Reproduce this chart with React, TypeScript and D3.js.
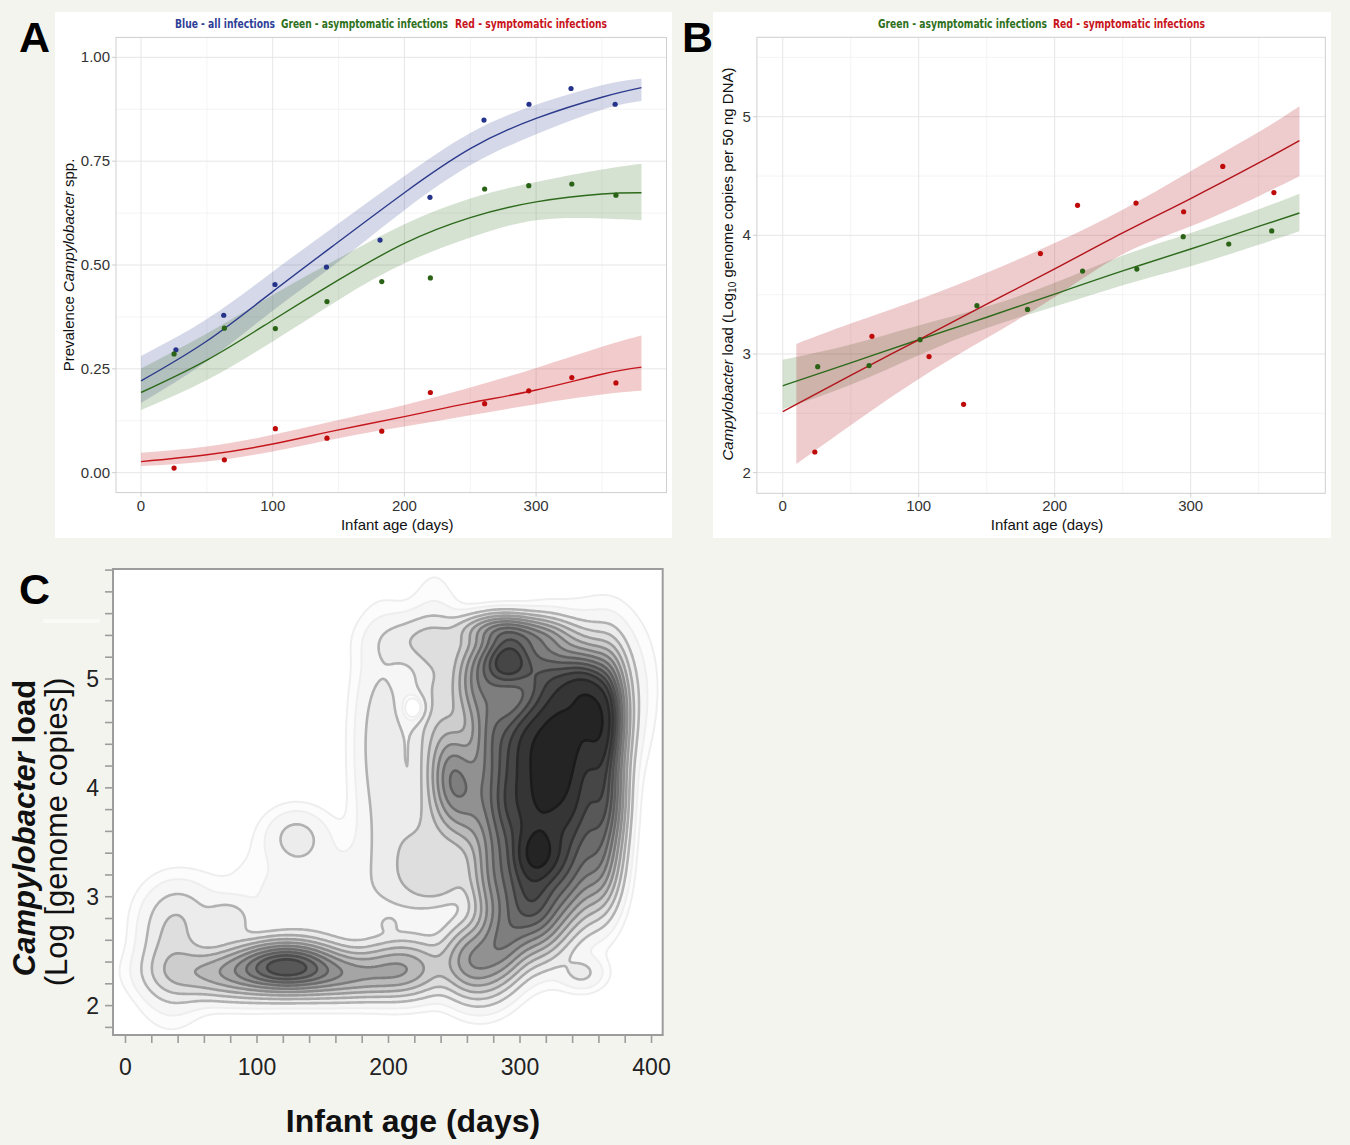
import { useEffect, useRef } from "react";
import * as d3 from "d3";

// ---------- Panel A: prevalence, fitted curves read at these ages ----------
const fitDaysA = [0, 50, 100, 150, 200, 250, 300, 350, 380];
const blueFit = [0.221, 0.317, 0.436, 0.556, 0.674, 0.78, 0.853, 0.904, 0.927];
const blueHi = [0.281, 0.37, 0.484, 0.6, 0.714, 0.818, 0.886, 0.933, 0.949];
const blueLo = [0.168, 0.268, 0.39, 0.508, 0.632, 0.74, 0.815, 0.874, 0.895];
const greenFit = [0.193, 0.271, 0.367, 0.464, 0.552, 0.614, 0.652, 0.671, 0.674];
const greenHi = [0.251, 0.335, 0.428, 0.516, 0.598, 0.66, 0.7, 0.73, 0.744];
const greenLo = [0.151, 0.223, 0.316, 0.416, 0.504, 0.566, 0.608, 0.612, 0.608];
const redFit = [0.0265, 0.043, 0.069, 0.103, 0.135, 0.168, 0.199, 0.237, 0.254];
const redHi = [0.048, 0.063, 0.091, 0.127, 0.163, 0.205, 0.252, 0.303, 0.33];
const redLo = [0.016, 0.027, 0.051, 0.083, 0.111, 0.138, 0.165, 0.188, 0.197];

// observed prevalence
const blueDays = [26.5, 62.8, 101.7, 140.8, 181.5, 219.4, 260.4, 294.6, 326.5, 360];
const bluePrev = [0.296, 0.379, 0.453, 0.495, 0.56, 0.663, 0.849, 0.887, 0.925, 0.887];
const greenDays = [25.1, 63.3, 102, 141.2, 182.8, 219.7, 260.9, 294.4, 327.1, 360.6];
const greenPrev = [0.286, 0.348, 0.347, 0.412, 0.46, 0.469, 0.683, 0.691, 0.695, 0.668];
const redDays = [25.1, 63.3, 102, 141.2, 182.8, 219.7, 260.9, 294.4, 327.1, 360.6];
const redPrev = [0.011, 0.031, 0.106, 0.083, 0.1, 0.193, 0.166, 0.197, 0.229, 0.216];

// ---------- Panel B: load, linear fits ----------
const fitDaysB = [0, 50, 100, 150, 200, 250, 300, 350, 380];
const redBandDaysB = [10, 50, 100, 150, 200, 250, 300, 350, 380];
const redFitB = [2.515, 2.82, 3.12, 3.42, 3.717, 4.02, 4.31, 4.61, 4.798];
const redHiB = [3.085, 3.256, 3.459, 3.684, 3.935, 4.216, 4.54, 4.87, 5.087];
const redLoB = [2.073, 2.4, 2.79, 3.135, 3.48, 3.84, 4.076, 4.33, 4.497];
const greenFitB = [2.732, 2.925, 3.12, 3.31, 3.505, 3.7, 3.885, 4.075, 4.188];
const greenHiB = [2.952, 3.08, 3.24, 3.4, 3.6, 3.83, 4.02, 4.22, 4.351];
const greenLoB = [2.535, 2.74, 2.99, 3.22, 3.4, 3.58, 3.74, 3.92, 4.034];

const redDaysB = [23.6, 65.6, 107.6, 133, 189.5, 216.8, 259.8, 294.8, 323.6, 361.2];
const redLoad = [2.174, 3.149, 2.978, 2.576, 3.846, 4.253, 4.272, 4.199, 4.581, 4.36];
const greenDaysB = [25.7, 63.5, 101, 142.8, 180, 220.5, 260.4, 294.5, 328, 359.6];
const greenLoad = [2.893, 2.902, 3.121, 3.407, 3.376, 3.699, 3.716, 3.989, 3.927, 4.037];

// ---------- Panel C: density hot spots [day, load, weight, sdDay, sdLoad, rho] ----------
const ridgeKernels = [
  [262, 2.42, 0.45, 13, 0.2, 0],
  [288, 2.6, 0.6, 14, 0.26, 0.3],
  [315, 2.85, 0.5, 13, 0.25, 0],
  [282, 3.2, 0.5, 12, 0.3, 0],
  [306, 3.2, 0.8, 13, 0.3, 0],
  [335, 3.25, 0.75, 13, 0.3, 0],
  [360, 3.35, 0.5, 10, 0.3, 0],
  [262, 3.9, 0.4, 12, 0.3, 0],
  [290, 3.85, 0.8, 13, 0.3, 0],
  [315, 3.8, 0.9, 13, 0.3, 0],
  [340, 3.85, 0.9, 13, 0.3, 0],
  [365, 3.9, 0.7, 9, 0.3, 0],
  [248, 4.1, 0.5, 10, 0.28, 0],
  [280, 4.5, 0.6, 12, 0.3, 0],
  [305, 4.45, 0.9, 13, 0.3, 0],
  [330, 4.45, 1.0, 13, 0.3, 0],
  [360, 4.5, 0.9, 10, 0.3, 0],
  [268, 4.95, 0.45, 12, 0.22, 0],
  [292, 5.15, 0.7, 12, 0.17, 0],
  [320, 5.05, 0.6, 13, 0.23, 0],
  [345, 4.95, 0.7, 12, 0.2, 0],
  [368, 4.75, 0.45, 8, 0.3, 0],
  [285, 5.45, 0.4, 18, 0.09, 0],
  [312, 5.38, 0.28, 18, 0.1, 0],
  // peaks
  [335, 4.45, 0.8, 24, 0.45, 0.35],
  [322, 4.1, 0.25, 10, 0.25, 0.3],
  [352, 4.75, 0.3, 10, 0.25, 0.3],
  [288, 5.19, 0.55, 16, 0.16, 0],
  [314, 3.4, 0.8, 10, 0.15, 0],
  [347, 2.3, 0.08, 11, 0.1, 0],
];
const lowerKernels = [
  [123, 2.37, 0.92, 22, 0.13, 0],
  [85, 2.3, 0.4, 32, 0.14, 0],
  [165, 2.28, 0.4, 28, 0.13, 0],
  [212, 2.35, 0.35, 20, 0.16, 0],
  [35, 2.45, 0.14, 15, 0.3, 0],
  [42, 2.85, 0.07, 18, 0.2, 0],
  [78, 2.78, 0.1, 11, 0.12, 0],
  [200, 2.75, 0.04, 5, 0.05, 0],
  [130, 3.55, 0.085, 15, 0.16, 0],
  [150, 3.0, 0.06, 40, 0.3, 0],
];
const armKernels = [
  [195, 4.4, 0.11, 13, 0.6, 0],
  [225, 5.35, 0.11, 22, 0.15, 0],
  [220, 3.4, 0.12, 20, 0.35, 0],
  [238, 3.15, 0.12, 16, 0.14, 0],
  [221, 4.73, -0.1, 7, 0.09, 0],
  [235, 4.6, 0.14, 12, 0.6, 0],
];
const densityLevels = [0.012, 0.03, 0.07, 0.13, 0.21, 0.31, 0.43, 0.57, 0.72, 0.88, 1.05, 1.22, 1.45, 1.8];
const densityFills = ["#fcfcfc", "#f6f6f6", "#ececec", "#dedede", "#cdcdcd", "#bababa", "#a5a5a5",
  "#919191", "#7e7e7e", "#6b6b6b", "#585858", "#464646", "#353535", "#242424"];

const xTicksAB = [0, 100, 200, 300];
const xMinorAB = [50, 150, 250, 350];
const yTicksA = [0, 0.25, 0.5, 0.75, 1];
const yMinorA = [0.125, 0.375, 0.625, 0.875];
const yTicksB = [2, 3, 4, 5];
const yMinorB = [2.5, 3.5, 4.5, 5.5];
const xTicksC = [0, 100, 200, 300, 400];
const yTicksC = [2, 3, 4, 5];

const W = 1350;
const H = 1145;
const sans = "'Liberation Sans', Arial, Helvetica, sans-serif";
const narrow = "'Liberation Sans Narrow', 'Arial Narrow', 'DejaVu Sans Condensed', sans-serif";

const BLUE = "#2c3a8c";
const GREEN = "#2d6a1b";
const RED = "#c4161c";

const allKernels = [...ridgeKernels, ...lowerKernels, ...armKernels];
const densityAt = (day: number, load: number) => {
  let s = 0;
  for (const [kd, kl, w, sd, sl, r] of allKernels) {
    const a = (day - kd) / sd;
    const b = (load - kl) / sl;
    const q = (a * a - 2 * r * a * b + b * b) / (1 - r * r);
    s += w * Math.exp(-0.5 * q);
  }
  return Math.max(0, s);
};

export default function App() {
  const ref = useRef<SVGSVGElement>(null);

  useEffect(() => {
    const svg = d3.select(ref.current);
    svg.selectAll("*").remove();
    svg.append("rect").attr("width", W).attr("height", H).attr("fill", "#f4f4ef");

    // shared helper: ggplot-like light panel
    const drawPanel = (x: any, y: any, xMaj: number[], xMin: number[], yMaj: number[], yMin: number[], fmt: (v: number) => string) => {
      const [x0, x1] = x.range();
      const [y0, y1] = y.range(); // bottom, top
      const g = svg.append("g");
      g.selectAll(".vmin").data(xMin).join("line")
        .attr("x1", (d) => x(d)).attr("x2", (d) => x(d)).attr("y1", y1).attr("y2", y0)
        .attr("stroke", "#f1f1f1").attr("stroke-width", 0.8);
      g.selectAll(".hmin").data(yMin).join("line")
        .attr("y1", (d) => y(d)).attr("y2", (d) => y(d)).attr("x1", x0).attr("x2", x1)
        .attr("stroke", "#f1f1f1").attr("stroke-width", 0.8);
      g.selectAll(".vmaj").data(xMaj).join("line")
        .attr("x1", (d) => x(d)).attr("x2", (d) => x(d)).attr("y1", y1).attr("y2", y0)
        .attr("stroke", "#e6e6e6").attr("stroke-width", 1);
      g.selectAll(".hmaj").data(yMaj).join("line")
        .attr("y1", (d) => y(d)).attr("y2", (d) => y(d)).attr("x1", x0).attr("x2", x1)
        .attr("stroke", "#e6e6e6").attr("stroke-width", 1);
      g.append("rect").attr("x", x0).attr("y", y1).attr("width", x1 - x0).attr("height", y0 - y1)
        .attr("fill", "none").attr("stroke", "#cfcfcf").attr("stroke-width", 1);
      g.selectAll(".yt").data(yMaj).join("line")
        .attr("x1", x0 - 4).attr("x2", x0).attr("y1", (d) => y(d)).attr("y2", (d) => y(d))
        .attr("stroke", "#cfcfcf");
      g.selectAll(".xt").data(xMaj).join("line")
        .attr("y1", y0).attr("y2", y0 + 4).attr("x1", (d) => x(d)).attr("x2", (d) => x(d))
        .attr("stroke", "#cfcfcf");
      g.selectAll(".yl").data(yMaj).join("text")
        .attr("x", x0 - 6).attr("y", (d) => y(d) + 5).attr("text-anchor", "end")
        .attr("font-family", sans).attr("font-size", 15).attr("fill", "#333").text(fmt);
      g.selectAll(".xl").data(xMaj).join("text")
        .attr("x", (d) => x(d)).attr("y", y0 + 18).attr("text-anchor", "middle")
        .attr("font-family", sans).attr("font-size", 15).attr("fill", "#333").text((d) => String(d));
      g.append("text").attr("x", (x0 + x1) / 2 + 6).attr("y", y0 + 37).attr("text-anchor", "middle")
        .attr("font-family", sans).attr("font-size", 15).attr("fill", "#111").text("Infant age (days)");
      return g;
    };

    const drawSeries = (g: any, x: any, y: any, bandDays: number[], lo: number[], hi: number[],
      fitDays: number[], fit: number[], color: string, alpha: number) => {
      const band = bandDays.map((d, i) => ({ d, lo: lo[i], hi: hi[i] }));
      g.append("path").datum(band)
        .attr("d", d3.area<any>().x((p) => x(p.d)).y0((p) => y(p.lo)).y1((p) => y(p.hi)).curve(d3.curveNatural))
        .attr("fill", color).attr("fill-opacity", alpha);
      const line = fitDays.map((d, i) => ({ d, v: fit[i] }));
      return () => g.append("path").datum(line)
        .attr("d", d3.line<any>().x((p) => x(p.d)).y((p) => y(p.v)).curve(d3.curveNatural))
        .attr("fill", "none").attr("stroke", color).attr("stroke-width", 1.4);
    };

    const drawPoints = (g: any, x: any, y: any, days: number[], vals: number[], color: string) => {
      g.selectAll(null).data(days.map((d, i) => [d, vals[i]])).join("circle")
        .attr("cx", (p: number[]) => x(p[0])).attr("cy", (p: number[]) => y(p[1])).attr("r", 2.6)
        .attr("fill", color);
    };

    const legend = (items: [string, string, number, number][]) => {
      items.forEach(([t, c, x, w]) => {
        svg.append("text").attr("x", x).attr("y", 28).attr("font-family", narrow)
          .attr("font-weight", "bold").attr("font-size", 11.5).attr("fill", c)
          .attr("textLength", w).attr("lengthAdjust", "spacingAndGlyphs").text(t);
      });
    };

    // ---------- Panel A ----------
    svg.append("rect").attr("x", 55).attr("y", 12).attr("width", 617).attr("height", 526).attr("fill", "#fff");
    const xA = d3.scaleLinear().domain([-19, 399]).range([116, 666.5]);
    const yA = d3.scaleLinear().domain([-0.048, 1.048]).range([492.6, 37.4]);
    const gA = drawPanel(xA, yA, xTicksAB, xMinorAB, yTicksA, yMinorA, d3.format(".2f"));
    const lb = drawSeries(gA, xA, yA, fitDaysA, blueLo, blueHi, fitDaysA, blueFit, BLUE, 0.2);
    const lg = drawSeries(gA, xA, yA, fitDaysA, greenLo, greenHi, fitDaysA, greenFit, GREEN, 0.2);
    const lr = drawSeries(gA, xA, yA, fitDaysA, redLo, redHi, fitDaysA, redFit, RED, 0.22);
    lb(); lg(); lr();
    drawPoints(gA, xA, yA, blueDays, bluePrev, "#25338a");
    drawPoints(gA, xA, yA, greenDays, greenPrev, "#2a6316");
    drawPoints(gA, xA, yA, redDays, redPrev, "#bf0a0a");
    svg.append("text").attr("transform", "translate(74,265) rotate(-90)").attr("text-anchor", "middle")
      .attr("font-family", sans).attr("font-size", 15).attr("fill", "#111")
      .call((t: any) => {
        t.append("tspan").text("Prevalence ");
        t.append("tspan").attr("font-style", "italic").text("Campylobacter");
        t.append("tspan").text(" spp.");
      });
    legend([
      ["Blue - all infections", "#2e3f97", 175, 100],
      ["Green - asymptomatic infections", "#2e7020", 281, 167],
      ["Red - symptomatic infections", "#c8141c", 455, 152],
    ]);

    // ---------- Panel B ----------
    svg.append("rect").attr("x", 713).attr("y", 12).attr("width", 618).attr("height", 526).attr("fill", "#fff");
    const xB = d3.scaleLinear().domain([-19, 399]).range([756.9, 1325.3]);
    const yB = d3.scaleLinear().domain([1.826, 5.669]).range([493.3, 37.3]);
    const gB = drawPanel(xB, yB, xTicksAB, xMinorAB, yTicksB, yMinorB, d3.format("d"));
    const lgB = drawSeries(gB, xB, yB, fitDaysB, greenLoB, greenHiB, fitDaysB, greenFitB, GREEN, 0.2);
    const lrB = drawSeries(gB, xB, yB, redBandDaysB, redLoB, redHiB, fitDaysB, redFitB, "#b3141b", 0.22);
    lgB(); lrB();
    drawPoints(gB, xB, yB, redDaysB, redLoad, "#bf0a0a");
    drawPoints(gB, xB, yB, greenDaysB, greenLoad, "#2a6316");
    svg.append("text").attr("transform", "translate(733,264) rotate(-90)").attr("text-anchor", "middle")
      .attr("font-family", sans).attr("font-size", 15).attr("fill", "#111")
      .call((t: any) => {
        t.append("tspan").attr("font-style", "italic").text("Campylobacter");
        t.append("tspan").text(" load (Log");
        t.append("tspan").attr("font-size", 10).attr("dy", 3).text("10");
        t.append("tspan").attr("dy", -3).text(" genome copies per 50 ng DNA)");
      });
    legend([
      ["Green - asymptomatic infections", "#2e7020", 878, 169],
      ["Red - symptomatic infections", "#c8141c", 1053, 152],
    ]);

    // ---------- Panel C: density contours ----------
    const cx = d3.scaleLinear().domain([-9.5, 408.5]).range([113, 662.7]);
    const cy = d3.scaleLinear().domain([1.73, 6.01]).range([1035, 569]);
    const cx0 = 113, cy0 = 569, step = 2;
    const nx = Math.ceil((662.7 - cx0) / step) + 1;
    const ny = Math.ceil((1035 - cy0) / step) + 1;
    const values: number[] = new Array(nx * ny);
    for (let j = 0; j < ny; j++) {
      const load = cy.invert(cy0 + j * step);
      for (let i = 0; i < nx; i++) values[j * nx + i] = densityAt(cx.invert(cx0 + i * step), load);
    }
    const contours = d3.contours().size([nx, ny]).thresholds(densityLevels)(values);
    const proj = d3.geoTransform({
      point(px: number, py: number) {
        (this as any).stream.point(cx0 + (px - 0.5) * step, cy0 + (py - 0.5) * step);
      },
    });
    const path = d3.geoPath(proj);
    svg.append("defs").append("clipPath").attr("id", "clipC")
      .append("rect").attr("x", 113).attr("y", 569).attr("width", 549.7).attr("height", 466);
    svg.append("rect").attr("x", 113).attr("y", 569).attr("width", 549.7).attr("height", 466).attr("fill", "#fff");
    const gC = svg.append("g").attr("clip-path", "url(#clipC)");
    gC.selectAll("path").data(contours).join("path")
      .attr("d", path as any)
      .attr("fill", (_d, i) => densityFills[i])
      .attr("stroke", (_d, i) => (i < 2 ? "#eeeeee" : d3.rgb(densityFills[i]).darker(0.8).formatHex()))
      .attr("stroke-width", (_d, i) => (i < 2 ? 2 : 2.6))
      .attr("stroke-linejoin", "round");

    // frame & ticks
    svg.append("rect").attr("x", 113).attr("y", 569).attr("width", 549.7).attr("height", 466)
      .attr("fill", "none").attr("stroke", "#9c9c9c").attr("stroke-width", 2);
    const xMinorC = d3.range(0, 401, 20);
    const yMinorC = d3.range(1.8, 6.01, 0.2);
    svg.append("g").selectAll("line").data(xMinorC).join("line")
      .attr("x1", (d) => cx(d)).attr("x2", (d) => cx(d)).attr("y1", 1036).attr("y2", 1043)
      .attr("stroke", "#9c9c9c").attr("stroke-width", 1.6);
    svg.append("g").selectAll("line").data(yMinorC).join("line")
      .attr("y1", (d) => cy(d)).attr("y2", (d) => cy(d)).attr("x1", 105).attr("x2", 112)
      .attr("stroke", "#9c9c9c").attr("stroke-width", 1.6);
    svg.append("g").selectAll("text").data(xTicksC).join("text")
      .attr("x", (d) => cx(d)).attr("y", 1075).attr("text-anchor", "middle")
      .attr("font-family", sans).attr("font-size", 23).attr("fill", "#222").text((d) => String(d));
    svg.append("g").selectAll("text").data(yTicksC).join("text")
      .attr("x", 99).attr("y", (d) => cy(d) + 8).attr("text-anchor", "end")
      .attr("font-family", sans).attr("font-size", 23).attr("fill", "#222").text((d) => String(d));
    svg.append("text").attr("x", 413).attr("y", 1132).attr("text-anchor", "middle")
      .attr("font-family", sans).attr("font-weight", "bold").attr("font-size", 32).attr("fill", "#111")
      .text("Infant age (days)");
    // faint white strip left of the y title, as in the source figure
    svg.append("rect").attr("x", 43).attr("y", 619).attr("width", 57).attr("height", 4)
      .attr("fill", "#fff").attr("opacity", 0.45);
    svg.append("text").attr("transform", "translate(35,828) rotate(-90)").attr("text-anchor", "middle")
      .attr("font-family", sans).attr("font-weight", "bold").attr("font-size", 31).attr("fill", "#111")
      .call((t: any) => {
        t.append("tspan").attr("font-style", "italic").text("Campylobacter");
        t.append("tspan").text(" load");
      });
    svg.append("text").attr("transform", "translate(67,832) rotate(-90)").attr("text-anchor", "middle")
      .attr("font-family", sans).attr("font-size", 31).attr("fill", "#111")
      .text("(Log [genome copies])");

    // panel letters
    const letters: [string, number, number][] = [["A", 19, 52], ["B", 682, 52], ["C", 19, 604]];
    letters.forEach(([t, x, y]) => {
      svg.append("text").attr("x", x).attr("y", y).attr("font-family", sans).attr("font-weight", "bold")
        .attr("font-size", 43).attr("fill", "#000").text(t);
    });
  }, []);

  return <svg ref={ref} width={W} height={H} style={{ position: "absolute", left: 0, top: 0 }} />;
}
